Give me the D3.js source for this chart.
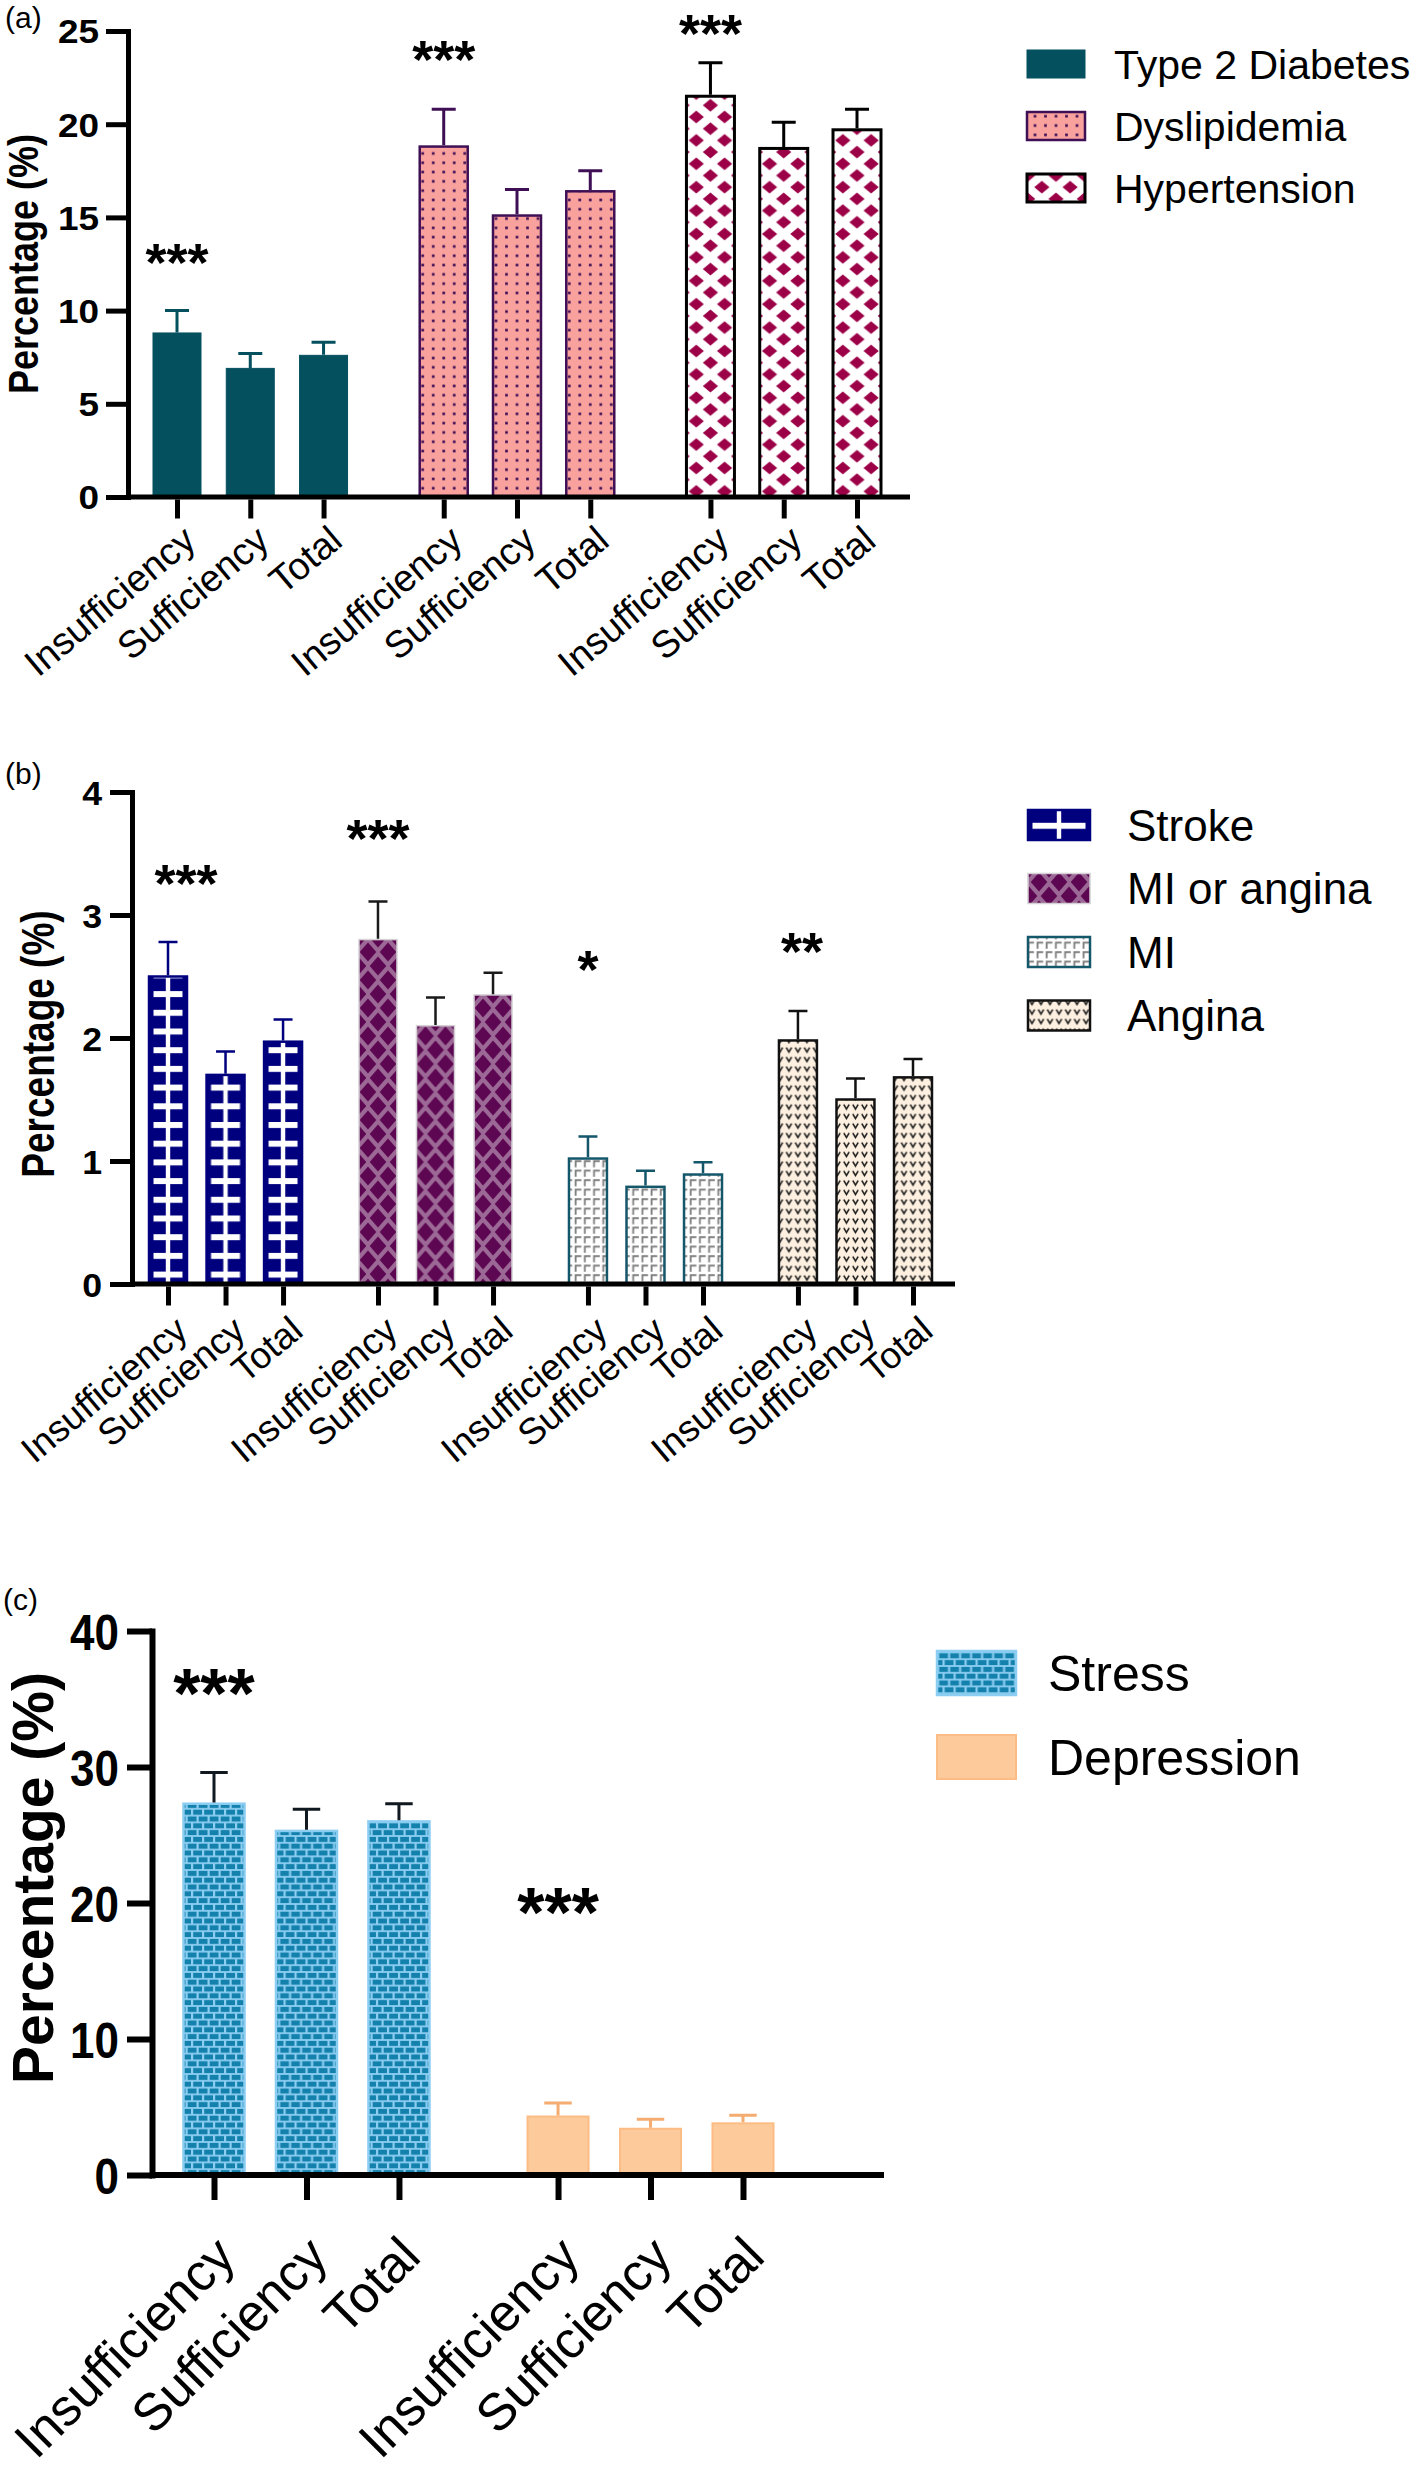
<!DOCTYPE html>
<html><head><meta charset="utf-8">
<script src="https://cdn.jsdelivr.net/npm/d3@7"></script>
<style>
body{margin:0;background:#fff}
svg{display:block}
text{font-family:"Liberation Sans",Arial,Helvetica,sans-serif;fill:#000}
</style>
</head><body>
<script>
// ---------------- DATA ----------------
const groupLabels = ["Insufficiency", "Sufficiency", "Total"];

// Panel (a)
const seriesA = ["Type 2 Diabetes", "Dyslipidemia", "Hypertension"];
const valuesA = [[8.8, 6.9, 7.6], [18.8, 15.1, 16.4], [21.5, 18.7, 19.7]];
const errorTopA = [[10.0, 7.7, 8.3], [20.8, 16.5, 17.5], [23.3, 20.1, 20.8]];
const starsA = ["***", "***", "***"];
const starLevelA = [13.2, 24.1, 25.5];
const ticksA = [0, 5, 10, 15, 20, 25];

// Panel (b)
const seriesB = ["Stroke", "MI or angina", "MI", "Angina"];
const valuesB = [[2.5, 1.7, 1.97], [2.8, 2.1, 2.35], [1.02, 0.79, 0.89], [1.98, 1.5, 1.68]];
const errorTopB = [[2.78, 1.89, 2.15], [3.11, 2.33, 2.53], [1.2, 0.92, 0.99], [2.22, 1.67, 1.83]];
const starsB = ["***", "***", "*", "**"];
const starLevelB = [3.35, 3.72, 2.65, 2.8];
const ticksB = [0, 1, 2, 3, 4];

// Panel (c)
const seriesC = ["Stress", "Depression"];
const valuesC = [[27.3, 25.3, 26.0], [4.3, 3.4, 3.8]];
const errorTopC = [[29.6, 26.9, 27.3], [5.3, 4.1, 4.4]];
const starsC = ["***", "***"];
const starLevelC = [36.5, 20.4];
const ticksC = [0, 10, 20, 30, 40];

// ---------------- DRAWING ----------------
const W = 1418, H = 2488;
const svg = d3.select("body").append("svg").attr("width", W).attr("height", H)
  .attr("viewBox", `0 0 ${W} ${H}`);
svg.append("rect").attr("width", W).attr("height", H).attr("fill", "#fff");
const defs = svg.append("defs");

function pattern(id, w, h, x0, bg, draw) {
  const p = defs.append("pattern").attr("id", id).attr("patternUnits", "userSpaceOnUse")
    .attr("x", x0).attr("y", 0).attr("width", w).attr("height", h);
  if (bg) p.append("rect").attr("width", w).attr("height", h).attr("fill", bg);
  draw(p, w, h);
  return `url(#${id})`;
}
function diamonds(p, w, h, hw, hh, col) {
  [[w / 2, h / 2], [0, 0], [w, 0], [0, h], [w, h]].forEach(([cx, cy]) =>
    p.append("path").attr("d", `M${cx - hw},${cy}L${cx},${cy - hh}L${cx + hw},${cy}L${cx},${cy + hh}Z`).attr("fill", col));
}

// pattern fills (lattices centred on the bar centre, x=0 local)
const fillDys = pattern("pDys", 10.5, 9.3, -5.25, "#f8a19d", (p, w, h) =>
  p.append("rect").attr("x", w / 2 - 1.3).attr("y", h / 2 - 1.3).attr("width", 2.6).attr("height", 2.6).attr("fill", "#3d0d55"));
const fillHyp = pattern("pHyp", 28.3, 23.4, -14.15, "#fff", (p, w, h) => diamonds(p, w, h, 7.6, 6.4, "#9c0047"));
const fillMIA = pattern("pMIA", 20, 28, -10, "#9c6896", (p, w, h) => diamonds(p, w, h, 8.3, 9.6, "#5d0752"));
const fillMI = pattern("pMI", 9.2, 9.5, -4.6, "#fff", (p, w, h) =>
  p.append("path").attr("d", "M1.5,8.2V2.2H7.2").attr("stroke", "#7d7d7d").attr("stroke-width", 1.8).attr("fill", "none"));
const fillAng = pattern("pAng", 9, 9.5, -4.5, "#fdf0e1", (p, w, h) =>
  p.append("path").attr("d", "M1.8,2.5L4.5,7L7.2,2.5").attr("stroke", "#1b1b1b").attr("stroke-width", 1.6).attr("fill", "none"));
const fillStress = pattern("pStr", 22, 13.6, -11, "#8ccdf2", (p, w, h) => {
  [[1.2, 0.9, 8.8], [12.2, 0.9, 8.8], [-4.3, 7.7, 8.8], [6.7, 7.7, 8.8], [17.7, 7.7, 8.8]].forEach(([x, y, bw]) =>
    p.append("rect").attr("x", x).attr("y", y).attr("width", bw).attr("height", 5).attr("fill", "#1381ab"));
});
function strokeFill(bw) {
  return pattern("pStroke" + Math.round(bw), bw, 18.7, -bw / 2, "#00007f", (p, w, h) => {
    p.append("rect").attr("x", 4.5).attr("y", 0).attr("width", w - 9).attr("height", 6).attr("fill", "#fff");
    p.append("rect").attr("x", w / 2 - 2.2).attr("y", 0).attr("width", 4.4).attr("height", h).attr("fill", "#fff");
  });
}

function drawPanel(cfg) {
  const g = svg.append("g");
  const y = d3.scaleLinear().domain([0, cfg.yMax]).range([cfg.y0, cfg.yTop]);
  const nG = cfg.series.length;
  const pMax = (nG - 1) * (3 + cfg.gap) + 2;
  const x = d3.scaleLinear().domain([0, pMax]).range([cfg.xFirst, cfg.xLast]);
  const step = x(1) - x(0), bw = step * cfg.barFrac, capW = bw * cfg.capFrac;
  const styles = cfg.styles(bw);

  const bars = [];
  cfg.series.forEach((s, i) => groupLabels.forEach((lab, j) =>
    bars.push({ s: i, j, lab, p: i * (3 + cfg.gap) + j, v: cfg.values[i][j], e: cfg.errors[i][j] })));

  // bars + error bars
  const bg = g.append("g").selectAll("g").data(bars).join("g")
    .attr("transform", d => `translate(${x(d.p)},0)`);
  bg.append("rect").attr("x", -bw / 2).attr("width", bw)
    .attr("y", d => y(d.v)).attr("height", d => y(0) - y(d.v))
    .attr("fill", d => styles[d.s].fill).attr("stroke", d => styles[d.s].stroke)
    .attr("stroke-width", d => styles[d.s].sw);
  bg.append("path")
    .attr("d", d => `M0,${y(d.v) - styles[d.s].sw / 2}V${y(d.e)}M${-capW / 2},${y(d.e)}H${capW / 2}`)
    .attr("stroke", d => styles[d.s].err).attr("stroke-width", cfg.errW).attr("fill", "none");

  // y axis
  const ya = g.append("g").attr("transform", `translate(${cfg.axisX},0)`)
    .call(d3.axisLeft(y).tickValues(cfg.ticks).tickFormat(d3.format("d"))
      .tickSize(cfg.tickLen).tickPadding(cfg.tickPad).tickSizeOuter(0));
  ya.attr("font-size", null).attr("font-family", null);
  ya.select(".domain").attr("stroke", "#000").attr("stroke-width", cfg.axisW).attr("stroke-linecap", "square");
  ya.selectAll(".tick line").attr("stroke", "#000").attr("stroke-width", cfg.axisW);
  ya.selectAll(".tick text").attr("font-size", cfg.tickFont).attr("font-weight", "bold")
    .attr("fill", "#000").attr("dy", null)
    .attr("transform", function () {
      const t = d3.select(this), tx = +t.attr("x");
      return `translate(${tx},${0.358 * cfg.tickFont * cfg.tickSy}) scale(${cfg.tickSx},${cfg.tickSy}) translate(${-tx},0)`;
    });

  // x axis line + ticks
  g.append("line").attr("x1", cfg.axisX).attr("x2", cfg.xEnd).attr("y1", cfg.y0).attr("y2", cfg.y0)
    .attr("stroke", "#000").attr("stroke-width", cfg.axisW);
  const xa = g.append("g").attr("transform", `translate(0,${cfg.y0 + cfg.axisW / 2})`)
    .call(d3.axisBottom(x).tickValues(bars.map(d => d.p)).tickSize(cfg.xTickLen).tickFormat(""));
  xa.select(".domain").remove();
  xa.selectAll(".tick line").attr("stroke", "#000").attr("stroke-width", cfg.axisW);

  // category labels
  g.append("g").selectAll("text").data(bars).join("text")
    .attr("transform", d => `translate(${x(d.p) + cfg.lblDx},${cfg.y0 + cfg.lblDy}) rotate(${-cfg.lblAngle})`)
    .attr("text-anchor", "end").attr("font-size", cfg.lblFont).text(d => d.lab);

  // significance stars
  g.append("g").selectAll("text").data(cfg.stars).join("text")
    .attr("x", (d, i) => x(i * (3 + cfg.gap)) + (cfg.starDx ? cfg.starDx[i] : 0))
    .attr("y", (d, i) => y(cfg.starLevel[i]) + 0.56 * cfg.starFont)
    .attr("text-anchor", "middle").attr("font-size", cfg.starFont).attr("font-weight", "bold").text(d => d);

  // axis title
  g.append("text").attr("transform", `translate(${cfg.titleX},${(cfg.y0 + cfg.yTop) / 2 + cfg.titleDy}) scale(${cfg.titleSx},1) rotate(-90)`)
    .attr("text-anchor", "middle").attr("font-size", cfg.titleFont).attr("font-weight", "bold").text("Percentage (%)");

  // panel letter
  g.append("text").attr("x", cfg.letterX).attr("y", cfg.letterY).attr("font-size", cfg.letterFont).text(cfg.letter);

  // legend
  const lg = g.append("g").selectAll("g").data(cfg.series).join("g");
  lg.append("g").attr("transform", `translate(${cfg.legX + cfg.legW / 2},0)`)
    .append("rect").attr("x", -cfg.legW / 2).attr("width", cfg.legW)
    .attr("y", (d, i) => cfg.legY + i * cfg.legDy - cfg.legH / 2).attr("height", cfg.legH)
    .attr("fill", (d, i) => styles[i].legFill || styles[i].fill).attr("stroke", (d, i) => styles[i].stroke)
    .attr("stroke-width", (d, i) => styles[i].sw);
  lg.append("text").attr("x", cfg.legTextX).attr("y", (d, i) => cfg.legY + i * cfg.legDy + 0.36 * cfg.legFont)
    .attr("font-size", cfg.legFont).text(d => d);
}

// Panel (a)
drawPanel({
  letter: "(a)", letterX: 5, letterY: 28, letterFont: 30,
  series: seriesA, values: valuesA, errors: errorTopA, stars: starsA, starLevel: starLevelA, ticks: ticksA,
  yMax: 25, y0: 497, yTop: 31, axisX: 128, xFirst: 177, xLast: 857, xEnd: 910, gap: 0.64,
  barFrac: 0.655, capFrac: 0.5, errW: 3, axisW: 5, tickLen: 22, tickPad: 7, tickFont: 33, tickSx: 1.12, tickSy: 1,
  xTickLen: 19, lblDx: 21, lblDy: 47, lblAngle: 40, lblFont: 38, starFont: 54,
  titleX: 38, titleDy: 0, titleFont: 36, titleSx: 1.2,
  legX: 1027, legW: 58, legH: 28, legY: 64, legDy: 62, legTextX: 1114, legFont: 41,
  styles: bw => [
    { fill: "#05505f", stroke: "#05505f", sw: 1, err: "#05505f" },
    { fill: fillDys, stroke: "#3f0f55", sw: 2.5, err: "#3f0f55" },
    { fill: fillHyp, stroke: "#000", sw: 3, err: "#000" }
  ]
});

// Panel (b)
drawPanel({
  letter: "(b)", letterX: 5, letterY: 784, letterFont: 30,
  series: seriesB, values: valuesB, errors: errorTopB, stars: starsB, starLevel: starLevelB, ticks: ticksB,
  yMax: 4, y0: 1284, yTop: 792, axisX: 132, xFirst: 168, xLast: 913, xEnd: 955, gap: 0.65,
  barFrac: 0.66, capFrac: 0.5, errW: 2.5, axisW: 5, tickLen: 22, tickPad: 8, tickFont: 34, tickSx: 1.05, tickSy: 1,
  xTickLen: 19, lblDx: 22, lblDy: 50, lblAngle: 40, lblFont: 37, starFont: 54,
  starDx: [18, 0, 0, 4],
  titleX: 54, titleDy: 6, titleFont: 37, titleSx: 1.25,
  legX: 1028, legW: 62, legH: 30, legY: 825, legDy: 63.5, legTextX: 1127, legFont: 44,
  styles: bw => [
    { fill: strokeFill(bw), legFill: strokeFill(62), stroke: "#00007f", sw: 2.5, err: "#00007f" },
    { fill: fillMIA, stroke: "#d4d0d4", sw: 1.5, err: "#1a1a1a" },
    { fill: fillMI, stroke: "#14566a", sw: 2.5, err: "#14566a" },
    { fill: fillAng, stroke: "#111", sw: 2.5, err: "#111" }
  ]
});

// Panel (c)
drawPanel({
  letter: "(c)", letterX: 3, letterY: 1610, letterFont: 30,
  series: seriesC, values: valuesC, errors: errorTopC, stars: starsC, starLevel: starLevelC, ticks: ticksC,
  yMax: 40, y0: 2175, yTop: 1631, axisX: 152, xFirst: 214, xLast: 743, xEnd: 884, gap: 0.72,
  barFrac: 0.66, capFrac: 0.45, errW: 3, axisW: 6, tickLen: 25, tickPad: 8, tickFont: 44, tickSx: 1, tickSy: 1.15,
  xTickLen: 22, lblDx: 24, lblDy: 84, lblAngle: 45, lblFont: 52, starFont: 70,
  titleX: 53, titleDy: -25, titleFont: 57, titleSx: 1,
  legX: 937, legW: 79, legH: 44, legY: 1673, legDy: 84, legTextX: 1048, legFont: 50,
  styles: bw => [
    { fill: fillStress, stroke: "#8ccdf2", sw: 2.5, err: "#101820" },
    { fill: "#fdca9b", stroke: "#fbbd85", sw: 2, err: "#f4ac70" }
  ]
});
</script>
</body></html>
